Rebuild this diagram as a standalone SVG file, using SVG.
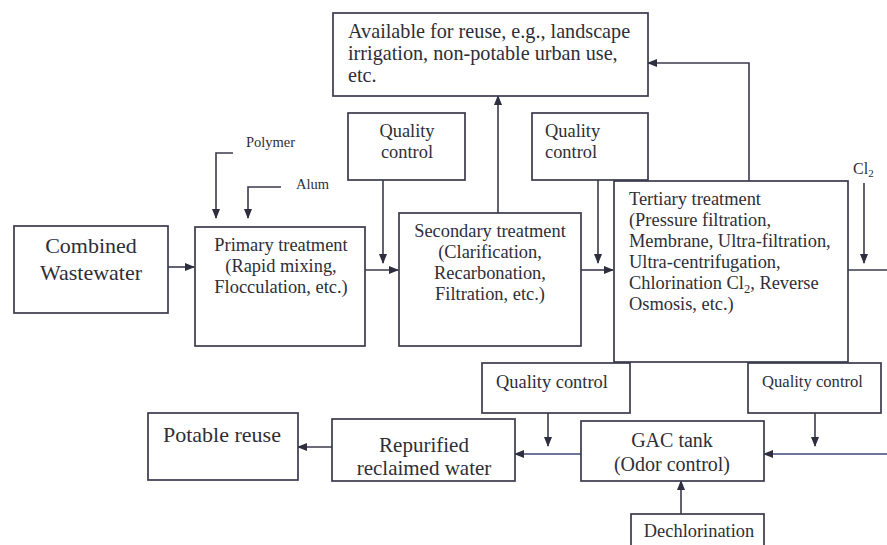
<svg xmlns="http://www.w3.org/2000/svg" width="887" height="545" viewBox="0 0 887 545">
  <style>
    .box { fill: #ffffff; stroke: #3a3a4e; stroke-width: 1.7; }
    .line { fill: none; stroke: #3a3a4e; stroke-width: 1.6; }
    .blue { stroke: #3c4a72; }
    text { fill: #2e2e38; }
    .t18 { font-size: 18.4px; }
    .t20 { font-size: 20px; }
    .t22 { font-size: 22px; }
    .t16 { font-size: 16px; }
    .t14 { font-size: 14.5px; }
    .mid { text-anchor: middle; }
  </style>
  <defs>
    <marker id="arrow" markerWidth="10" markerHeight="8" refX="9" refY="4" orient="auto" markerUnits="userSpaceOnUse">
      <path d="M0,0 L10,4 L0,8 Z" fill="#2e2e3e"/>
    </marker>
  </defs>

  <rect width="887" height="545" fill="#ffffff"/>

  <!-- connectors -->
  <g id="connectors">
    <!-- combined -> primary -->
    <line class="line" x1="168" y1="267" x2="194" y2="267" marker-end="url(#arrow)"/>
    <!-- polymer / alum feeds -->
    <polyline class="line" points="233,153 216,153 216,218" marker-end="url(#arrow)"/>
    <polyline class="line" points="281,187 248,187 248,218" marker-end="url(#arrow)"/>
    <!-- primary -> secondary -->
    <line class="line" x1="365" y1="270" x2="398" y2="270" marker-end="url(#arrow)"/>
    <!-- quality control 1 -> -->
    <line class="line" x1="383" y1="180" x2="383" y2="263" marker-end="url(#arrow)"/>
    <!-- secondary -> available -->
    <line class="line" x1="498" y1="213" x2="498" y2="96" marker-end="url(#arrow)"/>
    <!-- secondary -> tertiary -->
    <line class="line" x1="581" y1="270" x2="613" y2="270" marker-end="url(#arrow)"/>
    <!-- quality control 2 -> -->
    <line class="line" x1="598" y1="180" x2="598" y2="263" marker-end="url(#arrow)"/>
    <!-- tertiary -> available -->
    <polyline class="line" points="749,181 749,63 648,63" marker-end="url(#arrow)"/>
    <!-- Cl2 -->
    <line class="line" x1="864" y1="183" x2="864" y2="263" marker-end="url(#arrow)"/>
    <!-- tertiary outlet -->
    <line class="line" x1="848" y1="270" x2="887" y2="270"/>
    <!-- return to GAC tank -->
    <line class="line blue" x1="887" y1="454" x2="764" y2="454" marker-end="url(#arrow)"/>
    <!-- quality control 4 -> -->
    <line class="line" x1="815" y1="413" x2="815" y2="446" marker-end="url(#arrow)"/>
    <!-- quality control 3 -> -->
    <line class="line" x1="548" y1="413" x2="548" y2="446" marker-end="url(#arrow)"/>
    <!-- GAC -> repurified -->
    <line class="line blue" x1="581" y1="454" x2="515" y2="454" marker-end="url(#arrow)"/>
    <!-- repurified -> potable -->
    <line class="line" x1="332" y1="447" x2="298" y2="447" marker-end="url(#arrow)"/>
    <!-- dechlorination -> GAC -->
    <line class="line" x1="681" y1="514" x2="681" y2="481" marker-end="url(#arrow)"/>
  </g>

  <g font-family="'Liberation Serif', 'DejaVu Serif', serif">
  <g id="available">
    <rect class="box" x="333" y="13" width="315" height="83"/>
    <text x="348" y="38" font-size="20.2">Available for reuse, e.g., landscape</text>
    <text x="348" y="60" font-size="20.2">irrigation, non-potable urban use,</text>
    <text x="348" y="82" font-size="20.2">etc.</text>
  </g>

  <g id="combined">
    <rect class="box" x="14" y="226" width="154" height="87"/>
    <text class="t22 mid" x="91" y="253">Combined</text>
    <text class="t22 mid" x="91" y="280">Wastewater</text>
  </g>

  <g id="polymer">
    <text class="t14" x="246" y="147">Polymer</text>
  </g>
  <g id="alum">
    <text class="t14" x="296" y="189">Alum</text>
  </g>

  <g id="primary">
    <rect class="box" x="195" y="227" width="170" height="119"/>
    <text class="t18 mid" x="281" y="251">Primary treatment</text>
    <text class="t18 mid" x="281" y="272">(Rapid mixing,</text>
    <text class="t18 mid" x="281" y="293">Flocculation, etc.)</text>
  </g>

  <g id="quality-control-1">
    <rect class="box" x="348" y="113" width="117" height="67"/>
    <text class="t18 mid" x="407" y="137">Quality</text>
    <text class="t18 mid" x="407" y="158">control</text>
  </g>

  <g id="secondary">
    <rect class="box" x="399" y="213" width="182" height="133"/>
    <text class="t18 mid" x="490" y="237">Secondary treatment</text>
    <text class="t18 mid" x="490" y="258">(Clarification,</text>
    <text class="t18 mid" x="490" y="279">Recarbonation,</text>
    <text class="t18 mid" x="490" y="300">Filtration, etc.)</text>
  </g>

  <g id="quality-control-2">
    <rect class="box" x="532" y="113" width="116" height="67"/>
    <text class="t18" x="545" y="137">Quality</text>
    <text class="t18" x="545" y="158">control</text>
  </g>

  <g id="tertiary">
    <rect class="box" x="614" y="181" width="234" height="181"/>
    <text class="t18" x="629" y="205">Tertiary treatment</text>
    <text class="t18" x="629" y="226">(Pressure filtration,</text>
    <text class="t18" x="629" y="247">Membrane, Ultra-filtration,</text>
    <text class="t18" x="629" y="268">Ultra-centrifugation,</text>
    <text class="t18" x="629" y="289">Chlorination Cl<tspan font-size="12.5" dy="4">2</tspan><tspan dy="-4">, Reverse</tspan></text>
    <text class="t18" x="629" y="310">Osmosis, etc.)</text>
  </g>

  <g id="cl2">
    <text class="t16" x="853" y="174">Cl<tspan font-size="11" dy="3">2</tspan></text>
  </g>

  <g id="quality-control-3">
    <rect class="box" x="482" y="363" width="148" height="50"/>
    <text class="t18" x="496" y="388">Quality control</text>
  </g>

  <g id="quality-control-4">
    <rect class="box" x="748" y="363" width="133" height="50"/>
    <text x="762" y="387" font-size="16.6">Quality control</text>
  </g>

  <g id="gac-tank">
    <rect class="box" x="581" y="421" width="183" height="60"/>
    <text class="t20 mid" x="672" y="447">GAC tank</text>
    <text class="t20 mid" x="672" y="471">(Odor control)</text>
  </g>

  <g id="repurified">
    <rect class="box" x="332" y="419" width="183" height="62"/>
    <text class="mid" x="424" y="452" font-size="21">Repurified</text>
    <text class="mid" x="424" y="475" font-size="21">reclaimed water</text>
  </g>

  <g id="potable">
    <rect class="box" x="148" y="413" width="150" height="67"/>
    <text class="t22" x="163" y="442">Potable reuse</text>
  </g>

  <g id="dechlorination">
    <rect class="box" x="631" y="514" width="133" height="40"/>
    <text class="t18 mid" x="699" y="537">Dechlorination</text>
  </g>
  </g>
</svg>
